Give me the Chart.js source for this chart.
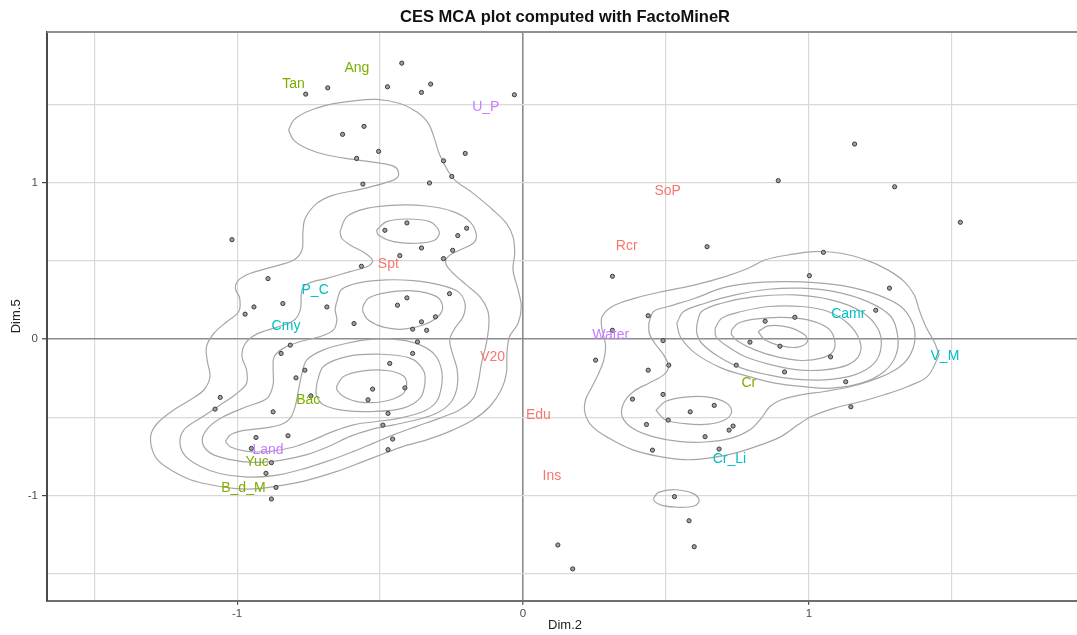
<!DOCTYPE html>
<html><head><meta charset="utf-8">
<script src="https://cdn.jsdelivr.net/npm/chart.js@4.4.1/dist/chart.umd.min.js"></script>
<style>
html,body{margin:0;padding:0;overflow:hidden;background:#fff;width:1077px;height:635px}
#wrap{position:absolute;left:0;top:0;width:1090px;height:635px}
canvas{display:block}
</style></head>
<body><div id="wrap"><canvas id="c" width="1090" height="635" style="width:1090px;height:635px"></canvas></div>
<script>
// ---------- DATA ----------
const chartTitle = "CES MCA plot computed with FactoMineR";
const xTitle = "Dim.2";
const yTitle = "Dim.5";
const xTickValues = [-1.5,-1,-0.5,0,0.5,1,1.5];
const yTickValues = [-1.5,-1,-0.5,0,0.5,1,1.5];

// individuals (points)
const indX = [-0.424,-0.683,-0.760,-0.474,-0.323,-0.355,-0.030,-0.556,-0.631,-0.505,-0.582,-0.202,-0.278,-0.249,-0.560,-0.327,-1.018,-0.406,-0.483,-0.197,-0.228,-0.355,-0.246,-0.431,-0.278,-0.565,-0.892,-0.941,-0.840,-0.686,-0.972,-0.406,-0.439,-0.257,-0.306,-0.591,-0.386,-0.337,-0.355,-0.369,-0.814,-0.846,-0.386,-0.466,-0.763,-0.794,-0.526,-0.413,-0.542,-0.742,-1.059,-1.077,-0.874,-0.472,-0.490,-0.822,-0.934,-0.456,-0.950,-0.472,-0.880,-0.899,-0.864,-0.880,
  1.160,0.893,1.300,1.530,0.644,1.051,0.313,1.002,1.282,1.234,0.438,0.951,0.847,0.313,0.490,0.794,0.899,0.254,1.076,0.510,0.438,0.746,0.915,1.129,0.490,0.383,0.669,1.147,0.585,0.508,0.432,0.735,0.721,0.637,0.453,0.686,0.530,0.581,0.122,0.599,0.174];
const indY = [1.764,1.606,1.566,1.613,1.630,1.577,1.562,1.360,1.309,1.200,1.155,1.187,1.140,1.040,0.991,0.998,0.636,0.743,0.696,0.709,0.662,0.583,0.568,0.534,0.515,0.466,0.387,0.206,0.228,0.206,0.160,0.264,0.217,0.291,0.143,0.100,0.064,0.057,0.111,-0.017,-0.038,-0.091,-0.091,-0.155,-0.198,-0.247,-0.319,-0.311,-0.387,-0.362,-0.372,-0.447,-0.464,-0.474,-0.549,-0.617,-0.628,-0.638,-0.698,-0.706,-0.789,-0.857,-0.947,-1.021,
  1.247,1.013,0.974,0.747,0.591,0.555,0.402,0.406,0.326,0.185,0.150,0.140,0.115,0.057,-0.009,-0.019,-0.045,-0.134,-0.113,-0.166,-0.198,-0.166,-0.209,-0.272,-0.353,-0.383,-0.423,-0.432,-0.464,-0.517,-0.545,-0.555,-0.581,-0.623,-0.709,-0.702,-1.006,-1.160,-1.315,-1.326,-1.468];

// category labels
const labelNames = ["Tan","Ang","U_P","Spt","P_C","Cmy","Bac","Land","Yuc","B_d_M","V20","Edu","Ins","SoP","Rcr","Water","Camr","V_M","Cr","Cr_Li"];
const labelX = [-0.803,-0.581,-0.130,-0.471,-0.727,-0.829,-0.751,-0.892,-0.930,-0.978,-0.106,0.054,0.101,0.506,0.363,0.307,1.138,1.476,0.790,0.722];
const labelY = [1.632,1.734,1.483,0.479,0.313,0.081,-0.389,-0.710,-0.784,-0.949,-0.112,-0.485,-0.872,0.947,0.595,0.024,0.160,-0.108,-0.279,-0.768];
const labelGroup = ["g","g","p","r","t","t","g","p","g","g","r","r","r","r","r","p","t","t","g","t"];

// density contour lines (Dim.2, Dim.5)
const contourLeft1 = [[-0.820,1.336],[-0.802,1.400],[-0.756,1.453],[-0.686,1.496],[-0.593,1.523],[-0.512,1.532],[-0.430,1.506],[-0.372,1.453],[-0.331,1.379],[-0.308,1.272],[-0.291,1.177],[-0.244,1.028],[-0.174,0.932],[-0.105,0.826],[-0.058,0.740],[-0.035,0.655],[-0.029,0.549],[-0.035,0.443],[-0.017,0.315],[-0.006,0.209],[-0.017,0.102],[-0.047,0.017],[-0.056,-0.089],[-0.058,-0.217],[-0.076,-0.323],[-0.116,-0.430],[-0.174,-0.515],[-0.256,-0.589],[-0.337,-0.643],[-0.419,-0.685],[-0.488,-0.732],[-0.558,-0.781],[-0.651,-0.845],[-0.756,-0.902],[-0.849,-0.936],[-0.942,-0.957],[-1.012,-0.953],[-1.093,-0.930],[-1.163,-0.898],[-1.233,-0.834],[-1.279,-0.770],[-1.300,-0.685],[-1.300,-0.600],[-1.273,-0.526],[-1.221,-0.451],[-1.163,-0.387],[-1.116,-0.323],[-1.095,-0.238],[-1.105,-0.132],[-1.107,-0.047],[-1.081,0.038],[-1.035,0.113],[-0.994,0.177],[-0.991,0.262],[-1.006,0.326],[-0.994,0.379],[-0.953,0.421],[-0.872,0.464],[-0.802,0.506],[-0.773,0.570],[-0.770,0.677],[-0.762,0.772],[-0.721,0.868],[-0.663,0.921],[-0.570,0.957],[-0.488,0.996],[-0.442,1.028],[-0.436,1.070],[-0.453,1.106],[-0.512,1.128],[-0.593,1.149],[-0.686,1.177],[-0.756,1.219],[-0.802,1.272]];
const contourLeft2 = [[-0.640,0.687],[-0.616,0.783],[-0.547,0.836],[-0.442,0.857],[-0.337,0.851],[-0.244,0.815],[-0.186,0.751],[-0.163,0.666],[-0.174,0.613],[-0.221,0.570],[-0.262,0.528],[-0.270,0.485],[-0.250,0.432],[-0.198,0.347],[-0.151,0.272],[-0.124,0.187],[-0.119,0.102],[-0.128,-0.026],[-0.145,-0.153],[-0.157,-0.281],[-0.174,-0.377],[-0.221,-0.451],[-0.291,-0.504],[-0.372,-0.557],[-0.453,-0.611],[-0.523,-0.664],[-0.593,-0.717],[-0.686,-0.781],[-0.779,-0.834],[-0.872,-0.872],[-0.965,-0.881],[-1.058,-0.860],[-1.128,-0.813],[-1.180,-0.749],[-1.200,-0.664],[-1.186,-0.579],[-1.128,-0.504],[-1.058,-0.419],[-1.000,-0.345],[-0.967,-0.281],[-0.967,-0.196],[-0.983,-0.111],[-0.971,-0.026],[-0.930,0.034],[-0.860,0.077],[-0.802,0.119],[-0.779,0.187],[-0.773,0.315],[-0.750,0.357],[-0.686,0.389],[-0.605,0.432],[-0.541,0.468],[-0.526,0.502],[-0.552,0.549],[-0.605,0.602],[-0.634,0.645]];
const contourLeft3 = [[-0.653,0.230],[-0.634,0.319],[-0.570,0.362],[-0.477,0.379],[-0.384,0.374],[-0.291,0.347],[-0.227,0.304],[-0.203,0.230],[-0.209,0.145],[-0.238,0.070],[-0.256,-0.004],[-0.247,-0.089],[-0.230,-0.196],[-0.230,-0.302],[-0.250,-0.398],[-0.297,-0.468],[-0.372,-0.515],[-0.453,-0.547],[-0.535,-0.579],[-0.605,-0.621],[-0.674,-0.681],[-0.756,-0.738],[-0.849,-0.774],[-0.942,-0.787],[-1.023,-0.770],[-1.093,-0.728],[-1.122,-0.653],[-1.102,-0.568],[-1.047,-0.494],[-0.965,-0.430],[-0.895,-0.377],[-0.874,-0.291],[-0.874,-0.196],[-0.870,-0.111],[-0.837,-0.057],[-0.779,-0.015],[-0.709,0.017],[-0.663,0.060],[-0.651,0.123],[-0.657,0.187]];
const contourLeft3b = [[-0.512,0.698],[-0.477,0.751],[-0.407,0.768],[-0.326,0.751],[-0.293,0.687],[-0.308,0.634],[-0.372,0.613],[-0.453,0.623],[-0.506,0.666]];
const contourLeft4 = [[-1.041,-0.653],[-1.023,-0.611],[-0.977,-0.583],[-0.907,-0.568],[-0.849,-0.547],[-0.814,-0.504],[-0.797,-0.430],[-0.785,-0.323],[-0.773,-0.217],[-0.756,-0.132],[-0.698,-0.068],[-0.616,-0.026],[-0.523,0.000],[-0.430,-0.004],[-0.360,-0.036],[-0.308,-0.100],[-0.285,-0.196],[-0.285,-0.302],[-0.302,-0.398],[-0.349,-0.462],[-0.430,-0.504],[-0.512,-0.526],[-0.593,-0.547],[-0.663,-0.589],[-0.733,-0.643],[-0.802,-0.689],[-0.884,-0.717],[-0.965,-0.717],[-1.023,-0.689]];
const contourLeft4b = [[-0.560,0.209],[-0.541,0.262],[-0.477,0.298],[-0.384,0.309],[-0.302,0.272],[-0.281,0.209],[-0.297,0.145],[-0.349,0.091],[-0.419,0.064],[-0.488,0.077],[-0.541,0.123],[-0.560,0.177]];
const contourLeft5 = [[-0.721,-0.281],[-0.698,-0.174],[-0.616,-0.111],[-0.500,-0.096],[-0.395,-0.121],[-0.349,-0.196],[-0.343,-0.281],[-0.360,-0.377],[-0.419,-0.440],[-0.523,-0.462],[-0.628,-0.455],[-0.698,-0.419],[-0.723,-0.355]];
const contourLeft6 = [[-0.651,-0.298],[-0.628,-0.238],[-0.558,-0.202],[-0.477,-0.200],[-0.419,-0.234],[-0.407,-0.291],[-0.424,-0.355],[-0.488,-0.398],[-0.570,-0.402],[-0.628,-0.366],[-0.651,-0.323]];
const contourRight1 = [[1.456,-0.100],[1.415,-0.238],[1.346,-0.302],[1.264,-0.355],[1.183,-0.398],[1.090,-0.440],[1.009,-0.494],[0.962,-0.547],[0.904,-0.621],[0.834,-0.674],[0.742,-0.728],[0.649,-0.760],[0.567,-0.770],[0.474,-0.749],[0.382,-0.706],[0.300,-0.632],[0.242,-0.557],[0.217,-0.472],[0.219,-0.387],[0.242,-0.302],[0.265,-0.217],[0.283,-0.132],[0.289,-0.047],[0.283,0.017],[0.275,0.081],[0.277,0.145],[0.312,0.209],[0.393,0.262],[0.486,0.304],[0.602,0.347],[0.707,0.400],[0.788,0.453],[0.846,0.506],[0.927,0.538],[1.020,0.560],[1.113,0.549],[1.206,0.502],[1.276,0.443],[1.334,0.368],[1.369,0.283],[1.386,0.187],[1.409,0.081],[1.438,-0.015]];
const contourRight2 = [[0.440,0.102],[0.457,0.177],[0.509,0.209],[0.602,0.262],[0.695,0.326],[0.788,0.357],[0.904,0.368],[1.020,0.362],[1.136,0.336],[1.241,0.283],[1.322,0.209],[1.363,0.102],[1.371,-0.004],[1.351,-0.111],[1.311,-0.185],[1.241,-0.249],[1.148,-0.302],[1.055,-0.334],[0.974,-0.355],[0.904,-0.387],[0.864,-0.430],[0.834,-0.504],[0.794,-0.579],[0.730,-0.632],[0.637,-0.657],[0.544,-0.653],[0.451,-0.621],[0.382,-0.568],[0.347,-0.494],[0.352,-0.409],[0.387,-0.334],[0.440,-0.281],[0.492,-0.228],[0.509,-0.174],[0.492,-0.100],[0.461,-0.026],[0.442,0.038]];
const contourRight3 = [[0.538,0.102],[0.562,0.177],[0.637,0.230],[0.742,0.283],[0.858,0.319],[0.974,0.326],[1.090,0.304],[1.206,0.240],[1.287,0.145],[1.311,0.017],[1.305,-0.100],[1.264,-0.206],[1.183,-0.281],[1.078,-0.313],[0.974,-0.302],[0.881,-0.281],[0.788,-0.238],[0.695,-0.185],[0.602,-0.089],[0.550,0.017]];
const contourRight3b = [[0.465,-0.455],[0.498,-0.398],[0.567,-0.370],[0.649,-0.370],[0.713,-0.409],[0.730,-0.462],[0.707,-0.515],[0.649,-0.543],[0.567,-0.540],[0.498,-0.515]];
const contourRight4 = [[0.608,0.091],[0.625,0.177],[0.695,0.230],[0.811,0.272],[0.951,0.283],[1.078,0.251],[1.183,0.177],[1.241,0.070],[1.253,-0.047],[1.229,-0.153],[1.160,-0.228],[1.055,-0.260],[0.951,-0.255],[0.858,-0.228],[0.765,-0.185],[0.684,-0.111],[0.625,-0.026],[0.608,0.038]];
const contourRight5 = [[0.672,0.070],[0.695,0.134],[0.765,0.177],[0.858,0.209],[0.974,0.209],[1.067,0.177],[1.136,0.102],[1.177,-0.004],[1.177,-0.100],[1.136,-0.164],[1.055,-0.196],[0.962,-0.196],[0.869,-0.164],[0.776,-0.111],[0.707,-0.036],[0.675,0.017]];
const contourRight6 = [[0.730,0.060],[0.753,0.102],[0.811,0.128],[0.904,0.140],[0.997,0.123],[1.067,0.070],[1.090,-0.004],[1.084,-0.079],[1.044,-0.121],[0.974,-0.136],[0.893,-0.115],[0.811,-0.068],[0.753,-0.015],[0.730,0.028]];
const contourRight7 = [[0.823,0.049],[0.858,0.085],[0.927,0.077],[0.985,0.028],[0.995,-0.015],[0.962,-0.051],[0.904,-0.043],[0.846,-0.004]];
const contourRightSmall = [[0.457,-1.015],[0.474,-0.979],[0.533,-0.962],[0.596,-0.987],[0.616,-1.030],[0.602,-1.064],[0.544,-1.074],[0.486,-1.062],[0.460,-1.036]];

// ---------- STYLE ----------
const groupColors = {r:"#F8766D", g:"#7CAE00", t:"#00BFC4", p:"#C77CFF"};
const FONT = '"Liberation Sans", Arial, Helvetica, sans-serif';
const contourColor = "#a6a6a6";

const contours = [contourLeft1,contourLeft2,contourLeft3,contourLeft3b,contourLeft4,contourLeft4b,contourLeft5,contourLeft6,
  contourRight1,contourRight2,contourRight3,contourRight3b,contourRight4,contourRight5,contourRight6,contourRight7,contourRightSmall];

const datasets = [{
  label: "individuals",
  data: indX.map((x,i)=>({x:x, y:indY[i]})),
  pointRadius: 2.1,
  pointBorderWidth: 1,
  pointBorderColor: "#3a3a3a",
  pointBackgroundColor: "#a0a0a0",
  showLine: false
}];
contours.forEach((c,k)=>{
  const pts = c.map(p=>({x:p[0], y:p[1]}));
  pts.push({x:c[0][0], y:c[0][1]});
  datasets.push({
    label: "contour"+k,
    data: pts,
    showLine: true,
    borderColor: contourColor,
    borderWidth: 1.2,
    pointRadius: 0,
    fill: false,
    tension: 0.35
  });
});

const isInt = v => Math.abs(v - Math.round(v)) < 1e-9;

const decorPlugin = {
  id: "decor",
  afterDatasetsDraw(chart){
    const {ctx, chartArea:a, scales:{x,y}} = chart;
    ctx.save();
    ctx.font = "14px " + FONT;
    ctx.textAlign = "center";
    ctx.textBaseline = "middle";
    labelNames.forEach((t,i)=>{
      ctx.fillStyle = groupColors[labelGroup[i]];
      ctx.fillText(t, x.getPixelForValue(labelX[i]), y.getPixelForValue(labelY[i]));
    });
    // top panel border
    ctx.strokeStyle = "#8f8f8f";
    ctx.lineWidth = 2;
    ctx.beginPath();
    ctx.moveTo(a.left, a.top);
    ctx.lineTo(a.right, a.top);
    ctx.stroke();
    // title
    ctx.fillStyle = "#111";
    ctx.font = "bold 16.5px " + FONT;
    ctx.fillText(chartTitle, (a.left + a.right)/2, 17.5);
    ctx.restore();
  }
};

const gridColor = c => (c.tick && c.tick.value === 0) ? "#8c8c8c" : "#d9d9d9";
const gridWidth = c => (c.tick && c.tick.value === 0) ? 1.6 : 1.2;
const tickColor = c => (c.tick && isInt(c.tick.value)) ? "#444" : "rgba(0,0,0,0)";

new Chart(document.getElementById("c"), {
  type: "scatter",
  data: { datasets },
  plugins: [decorPlugin],
  options: {
    responsive: false,
    animation: false,
    devicePixelRatio: 1,
    layout: { padding: { top: 32, right: 7, left: 0, bottom: 0 } },
    plugins: { legend: { display: false }, tooltip: { enabled: false }, title: { display: false } },
    scales: {
      x: {
        type: "linear",
        min: -1.665, max: 1.959,
        afterBuildTicks: s => { s.ticks = xTickValues.map(v=>({value:v})); },
        afterFit: s => { s.height = 34.3; },
        grid: { color: gridColor, lineWidth: gridWidth, drawTicks: true, tickLength: 4, tickColor: tickColor, tickWidth: 1.2 },
        border: { display: true, color: "#6e6e6e", width: 2 },
        ticks: { autoSkip: false, maxRotation: 0, padding: 2, color: "#4d4d4d", font: { size: 11.5, family: FONT },
          callback: v => isInt(v) ? String(Math.round(v)) : "" },
        title: { display: true, text: xTitle, color: "#222", font: { size: 13, family: FONT }, padding: { top: 0, bottom: 2.2 } }
      },
      y: {
        type: "linear",
        min: -1.671, max: 1.963,
        afterBuildTicks: s => { s.ticks = yTickValues.map(v=>({value:v})); },
        afterFit: s => { s.width = 47; },
        grid: { color: gridColor, lineWidth: gridWidth, drawTicks: true, tickLength: 5, tickColor: tickColor, tickWidth: 1.2 },
        border: { display: true, color: "#4a4a4a", width: 2 },
        ticks: { autoSkip: false, padding: 4, color: "#4d4d4d", font: { size: 11.5, family: FONT },
          callback: v => isInt(v) ? String(Math.round(v)) : "" },
        title: { display: true, text: yTitle, color: "#222", font: { size: 13, family: FONT }, padding: { top: 9, bottom: 0 } }
      }
    }
  }
});
</script>
</body></html>
